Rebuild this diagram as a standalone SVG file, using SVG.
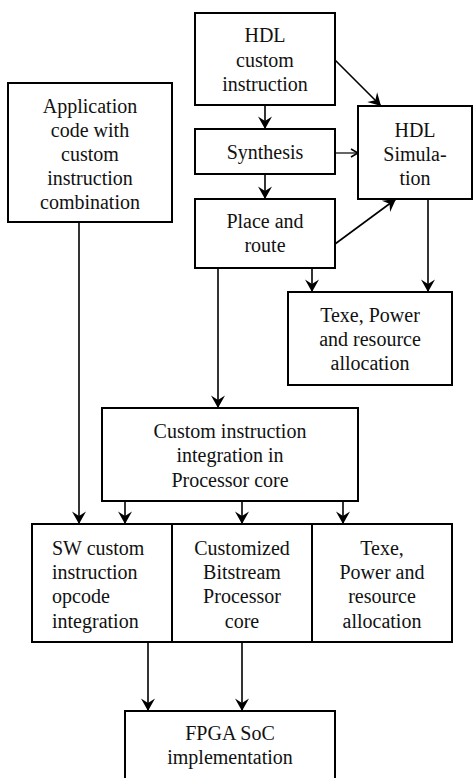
<svg xmlns="http://www.w3.org/2000/svg" width="473" height="778" viewBox="0 0 473 778">
<style>
.box{fill:#fff;stroke:#000;stroke-width:2}
text{font-family:"Liberation Serif","Times New Roman",serif;font-size:20px;fill:#111}
.c{text-anchor:middle}
.conn{stroke:#000;stroke-width:1.6;fill:none;marker-end:url(#ah)}
.thin{stroke:#000;stroke-width:1.2;fill:none;marker-end:url(#sa)}
</style>
<defs>
<marker id="ah" markerUnits="userSpaceOnUse" viewBox="-13 -8 14 16" refX="0" refY="0" markerWidth="14" markerHeight="16" orient="auto">
<path d="M0,0 L-12.5,-7 L-8,0 L-12.5,7 Z" fill="#000"/>
</marker>
<marker id="sa" markerUnits="userSpaceOnUse" viewBox="-9 -6 10 12" refX="0" refY="0" markerWidth="10" markerHeight="12" orient="auto">
<path d="M-7,-4 L0,0 L-7,4" fill="none" stroke="#000" stroke-width="1.6"/>
</marker>
</defs>
<g id="connectors">
<line class="conn" x1="265" y1="105" x2="265" y2="129"/>
<line class="conn" x1="265" y1="174" x2="265" y2="199"/>
<line class="conn" x1="335" y1="60" x2="381" y2="106"/>
<line class="thin" x1="335" y1="153" x2="358" y2="153"/>
<line class="conn" x1="335" y1="244" x2="396" y2="199"/>
<line class="conn" x1="428" y1="199" x2="428" y2="292"/>
<line class="conn" x1="312" y1="268" x2="312" y2="292"/>
<line class="conn" x1="218" y1="268" x2="218" y2="408"/>
<line class="conn" x1="79" y1="222" x2="79" y2="524"/>
<line class="conn" x1="125" y1="501" x2="125" y2="524"/>
<line class="conn" x1="242" y1="501" x2="242" y2="524"/>
<line class="conn" x1="343" y1="501" x2="343" y2="524"/>
<line class="conn" x1="148" y1="642" x2="148" y2="711"/>
<line class="conn" x1="242" y1="642" x2="242" y2="711"/>
</g>
<g id="hdl-custom">
<rect class="box" x="195" y="13" width="140" height="92"/>
<text class="c" x="265" y="42">HDL</text>
<text class="c" x="265" y="67">custom</text>
<text class="c" x="265" y="91">instruction</text>
</g>
<g id="synthesis">
<rect class="box" x="195" y="129" width="140" height="45"/>
<text class="c" x="265" y="159">Synthesis</text>
</g>
<g id="place-route">
<rect class="box" x="195" y="199" width="140" height="69"/>
<text class="c" x="265" y="228">Place and</text>
<text class="c" x="265" y="252">route</text>
</g>
<g id="hdl-sim">
<rect class="box" x="358" y="106" width="114" height="93"/>
<text class="c" x="415" y="137">HDL</text>
<text class="c" x="415" y="161">Simula-</text>
<text class="c" x="415" y="185">tion</text>
</g>
<g id="application">
<rect class="box" x="8" y="83" width="164" height="139"/>
<text class="c" x="90" y="113">Application</text>
<text class="c" x="90" y="137">code with</text>
<text class="c" x="90" y="161">custom</text>
<text class="c" x="90" y="185">instruction</text>
<text class="c" x="90" y="209">combination</text>
</g>
<g id="texe-top">
<rect class="box" x="288" y="292" width="164" height="93"/>
<text class="c" x="370" y="322">Texe, Power</text>
<text class="c" x="370" y="346">and resource</text>
<text class="c" x="370" y="370">allocation</text>
</g>
<g id="integration">
<rect class="box" x="102" y="408" width="256" height="93"/>
<text class="c" x="230" y="438">Custom instruction</text>
<text class="c" x="230" y="462">integration in</text>
<text class="c" x="230" y="487">Processor core</text>
</g>
<g id="sw-custom">
<rect class="box" x="32" y="524" width="140" height="118"/>
<text x="52" y="555">SW custom</text>
<text x="52" y="579">instruction</text>
<text x="52" y="603">opcode</text>
<text x="52" y="628">integration</text>
</g>
<g id="bitstream">
<rect class="box" x="172" y="524" width="140" height="118"/>
<text class="c" x="242" y="555">Customized</text>
<text class="c" x="242" y="579">Bitstream</text>
<text class="c" x="242" y="603">Processor</text>
<text class="c" x="242" y="628">core</text>
</g>
<g id="texe-bottom">
<rect class="box" x="312" y="524" width="140" height="118"/>
<text class="c" x="382" y="555">Texe,</text>
<text class="c" x="382" y="579">Power and</text>
<text class="c" x="382" y="603">resource</text>
<text class="c" x="382" y="628">allocation</text>
</g>
<g id="fpga">
<rect class="box" x="125" y="711" width="210" height="72"/>
<text class="c" x="230" y="740">FPGA SoC</text>
<text class="c" x="230" y="764">implementation</text>
</g>
</svg>
